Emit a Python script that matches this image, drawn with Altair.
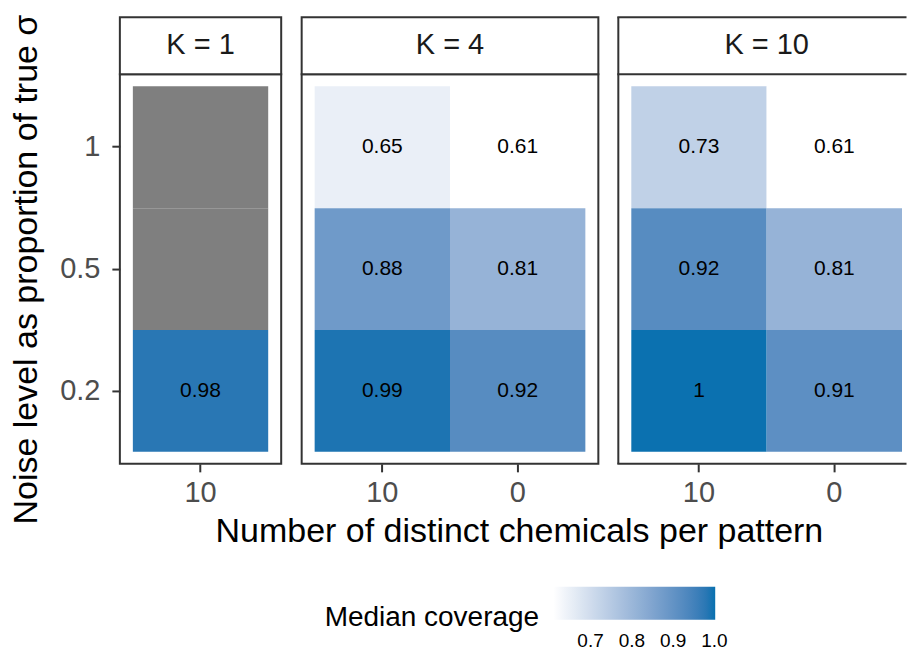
import altair as alt
import pandas as pd

# Panels (number of patterns K), tile categories and the median coverage per tile
panels = ["K = 1", "K = 4", "K = 10"]
chem_levels = ["10", "0"]
noise_levels = ["1", "0.5", "0.2"]
panel_chems = [["10"], ["10", "0"], ["10", "0"]]
# coverage[panel][chem] lists values for noise levels 1, 0.5, 0.2 (None = missing)
coverage = [
    [[None, None, 0.98]],
    [[0.65, 0.88, 0.99], [0.61, 0.81, 0.92]],
    [[0.73, 0.92, 1.0], [0.61, 0.81, 0.91]],
]
legend_ticks = [0.7, 0.8, 0.9, 1.0]

rows = []
for panel, chems, vals in zip(panels, panel_chems, coverage):
    for chem, col in zip(chems, vals):
        for noise, v in zip(noise_levels, col):
            rows.append({"panel": panel, "chem": chem, "noise": noise, "cov": v,
                         "kind": "tile" if v is not None else "na"})
    # one row per panel for the strip header
    rows.append({"panel": panel, "chem": chems[-1], "noise": None, "cov": None,
                 "kind": "strip"})
df = pd.DataFrame(rows)

FONT = "Liberation Sans"
DARK = "#333333"
STEP = 135.5          # width of one tile column
PAD = 13              # empty space either side of the tiles
HEIGHT = 390
STRIP = 57
# the last panel runs off the right edge of the page
visible_width = [None, None, 288.5]

color_scale = alt.Scale(domain=[0.61, 1.002], range=["#ffffff", "#0570b0"], interpolate="lab")
y_scale = alt.Scale(paddingInner=0, paddingOuter=12 / 122.1)


def panel_chart(i):
    name = panels[i]
    n = len(panel_chems[i])
    full = n * STEP + 2 * PAD
    width = visible_width[i] or full
    data = df[df["panel"] == name]
    # keep the left margin at PAD; whatever is left over goes on the right
    outer = width - n * STEP
    x_scale = alt.Scale(domain=panel_chems[i], paddingInner=0,
                        paddingOuter=outer / 2 / STEP, align=PAD / outer)

    if i == 1:
        x_axis = alt.Axis(title="Number of distinct chemicals per pattern",
                          titleX=519 - 301.5, titlePadding=7, titleLimit=1000)
    else:
        x_axis = alt.Axis(title=None)
    x_enc = alt.X("chem:N", scale=x_scale, axis=x_axis)
    if i == 0:
        y_axis = alt.Axis(title="Noise level as proportion of true σ")
    else:
        y_axis = None
    y_enc = alt.Y("noise:N", sort=noise_levels, scale=y_scale, axis=y_axis)

    base = alt.Chart(data)
    strip = base.transform_filter("datum.kind == 'strip'")

    na_tiles = base.mark_rect(color="#7f7f7f").encode(
        x=x_enc, y=y_enc
    ).transform_filter("datum.kind == 'na'")

    tiles = base.mark_rect().encode(
        x=x_enc,
        y=y_enc,
        color=alt.Color(
            "cov:Q",
            title="Median coverage",
            scale=color_scale,
            legend=alt.Legend(values=legend_ticks, format=".1f",
                              labelAlign="center", labelOffset=12),
        ),
    ).transform_filter("datum.kind == 'tile'")

    tile_text = base.mark_text(fontSize=21, color="black", font=FONT).encode(
        x=x_enc, y=y_enc, text=alt.Text("cov:Q", format=".2~f")
    ).transform_filter("datum.kind == 'tile'")

    # strip label sits at the centre of the full panel
    if n == 1:
        strip_x = alt.X("chem:N", scale=x_scale, bandPosition=0.5, axis=x_axis)
    else:
        strip_x = alt.X("chem:N", scale=x_scale, bandPosition=0, axis=x_axis)
    strip_text = strip.mark_text(fontSize=29, color="#1a1a1a", font=FONT).encode(
        x=strip_x, y=alt.value(-STRIP / 2 - 0.5), text="panel:N"
    )

    if visible_width[i] is None:
        frame = [strip.mark_rect(fill="white", stroke=DARK, strokeWidth=2).encode(
            x=alt.value(0), x2=alt.value("width"), y=alt.value(-STRIP), y2=alt.value(0)
        )]
        view = alt.ViewBackground(stroke=DARK, strokeWidth=2)
    else:
        # open on the right: left edge plus the horizontal lines only
        line = strip.mark_rule(color=DARK, strokeWidth=2)
        frame = [
            line.encode(x=alt.value(0), y=alt.value(-STRIP), y2=alt.value("height")),
            line.encode(x=alt.value(-1), x2=alt.value("width"), y=alt.value(-STRIP)),
            line.encode(x=alt.value(-1), x2=alt.value("width"), y=alt.value(0)),
            line.encode(x=alt.value(-1), x2=alt.value("width"), y=alt.value("height")),
        ]
        view = alt.ViewBackground(stroke="transparent")

    return alt.layer(na_tiles, tiles, tile_text, *frame, strip_text).properties(
        width=width, height=HEIGHT, view=view
    )


chart = alt.hconcat(
    *[panel_chart(i) for i in range(len(panels))], spacing=20, bounds="flush"
).configure(
    font=FONT,
    padding={"left": 8, "top": 12, "right": 0, "bottom": 0},
).configure_axis(
    domain=False,
    tickColor=DARK,
    tickWidth=2,
    tickSize=8,
    labelColor="#4d4d4d",
    labelFontSize=29,
    labelFont=FONT,
    titleFontSize=34,
    titleFontWeight="normal",
    titleColor="black",
    titleFont=FONT,
).configure_axisX(
    labelAngle=0, labelPadding=7
).configure_axisY(
    labelPadding=12, titlePadding=16
).configure_legend(
    orient="none",
    legendX=325 - 120,
    legendY=586 - 73,
    direction="horizontal",
    gradientLength=162,
    gradientThickness=33,
    gradientStrokeWidth=0,
    titleOrient="left",
    titleAnchor="middle",
    titleBaseline="top",
    titleFontSize=28,
    titleFontWeight="normal",
    titleColor="black",
    titlePadding=14,
    titleLimit=400,
    labelFontSize=19,
    labelColor="black",
)

chart.save("out.html", embed_options={"renderer": "svg", "actions": False})
